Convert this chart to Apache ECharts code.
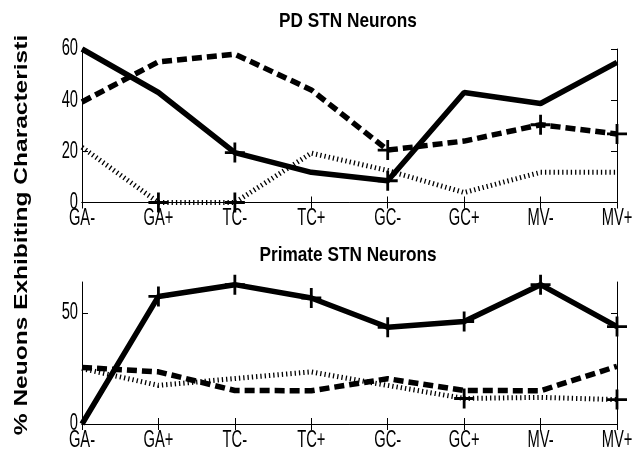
<!DOCTYPE html>
<html>
<head>
<meta charset="utf-8">
<script src="https://cdn.jsdelivr.net/npm/echarts@6/dist/echarts.min.js"></script>
<style>
html,body{margin:0;padding:0;background:#fff;}
#map{width:644px;height:453px;}
</style>
</head>
<body>
<div id="map"></div>
<script>
// categories
var cats = ['GA-', 'GA+', 'TC-', 'TC+', 'GC-', 'GC+', 'MV-', 'MV+'];

// PD STN Neurons
var pdSolid = [60, 43, 19.5, 11.8, 8.5, 43, 38.7, 54.8];
var pdDashed = [39.3, 55, 58, 44, 20.5, 24, 30.4, 26.8];
var pdDotted = [21.6, 0, 0, 19.3, 12.5, 3.9, 11.8, 11.8];
var pdSolidMarks = ['TC-', 'GC-'];
var pdDashedMarks = ['GC-', 'MV-', 'MV+'];
var pdDottedMarks = ['GA+', 'TC-'];
var pdTicks = [0, 20, 40, 60];

// Primate STN Neurons
var prSolid = [0, 57.5, 62.8, 56.8, 43.6, 46.2, 62.8, 43.9];
var prDashed = [25.5, 23.5, 15.1, 15, 20.4, 15.1, 15, 26];
var prDotted = [25, 17.4, 20.5, 23.5, 17.4, 11.5, 12, 11];
var prSolidMarks = ['GA+', 'TC-', 'TC+', 'GC-', 'GC+', 'MV-', 'MV+'];
var prDashedMarks = [];
var prDottedMarks = ['GC+', 'MV+'];
var prTicks = [0, 50];

var myChart = echarts.init(document.getElementById('map'));

var plus = 'path://M8.6,0H11.4V8.6H20V11.4H11.4V20H8.6V11.4H0V8.6H8.6Z';
var sans = "'Liberation Sans', Arial, sans-serif";

// 把数值和打点位置拼成数据
function withMarks(values, marks) {
	var out = [];
	for (var i = 0; i < values.length; i++) {
		if (marks.indexOf(cats[i]) >= 0) {
			out.push({ value: values[i], symbol: plus, symbolSize: 20 });
		} else {
			out.push({ value: values[i], symbol: 'none' });
		}
	}
	return out;
}

function line(idx, values, marks, kind) {
	var ls = { color: '#000', width: 5.5, type: 'solid', cap: 'butt' };
	if (kind === 'dashed') {
		ls.type = [10, 5];
	}
	if (kind === 'dotted') {
		ls.width = 5;
		ls.type = [1.3, 3];
	}
	return {
		type: 'line',
		xAxisIndex: idx * 2,
		yAxisIndex: idx * 2,
		data: withMarks(values, marks),
		showSymbol: true,
		lineStyle: ls,
		itemStyle: { color: '#000', borderWidth: 0 },
		emphasis: { disabled: true },
		animation: false,
		z: kind === 'solid' ? 4 : (kind === 'dashed' ? 3 : 2)
	};
}

function xAxes(gi) {
	return [{
		type: 'category', gridIndex: gi, data: cats, boundaryGap: false,
		axisLine: { show: true, lineStyle: { color: '#000', width: 1 } },
		axisTick: { inside: true, length: 6, lineStyle: { color: '#000' } },
		axisLabel: { show: false }, splitLine: { show: false }
	}, {
		type: 'category', gridIndex: gi, data: cats, boundaryGap: false, position: 'top',
		axisLine: { show: true, lineStyle: { color: '#000', width: 1 } },
		axisTick: { inside: true, length: 6, lineStyle: { color: '#000' } },
		axisLabel: { show: false }, splitLine: { show: false }
	}];
}

function yAxes(gi, max, ticks, interval) {
	var one = function (pos) {
		return {
			type: 'value', gridIndex: gi, min: 0, max: max, interval: interval, position: pos,
			axisLine: { show: true, lineStyle: { color: '#000', width: 1 } },
			axisTick: { show: true, inside: true, length: 6, lineStyle: { color: '#000' }, customValues: ticks },
			axisLabel: { show: false },
			splitLine: { show: false }
		};
	};
	return [one('left'), one('right')];
}

var option = {
	backgroundColor: '#fff',
	animation: false,
	grid: [
		{ left: 82, right: 27, top: 49, height: 153.5 },
		{ left: 82, right: 27, top: 282, height: 142 }
	],
	xAxis: xAxes(0).concat(xAxes(1)),
	yAxis: yAxes(0, 60, pdTicks, 20).concat(yAxes(1, 64, prTicks, 50)),
	series: [
		line(0, pdDotted, pdDottedMarks, 'dotted'),
		line(0, pdDashed, pdDashedMarks, 'dashed'),
		line(0, pdSolid, pdSolidMarks, 'solid'),
		line(1, prDotted, prDottedMarks, 'dotted'),
		line(1, prDashed, prDashedMarks, 'dashed'),
		line(1, prSolid, prSolidMarks, 'solid')
	]
};
myChart.setOption(option);

// 刻度文字用窄字体效果：按坐标轴换算位置后画出来
var g = [];
function tickText(txt, x, y, align, vAlign) {
	g.push({
		type: 'text', x: x, y: y, scaleX: 0.64, silent: true,
		style: { text: txt, fill: '#000', font: '23px ' + sans, textAlign: align, textVerticalAlign: vAlign }
	});
}
function labelsFor(gi, ticks) {
	var x0 = myChart.convertToPixel({ xAxisIndex: gi * 2 }, cats[0]);
	var y0 = myChart.convertToPixel({ yAxisIndex: gi * 2 }, 0);
	for (var i = 0; i < cats.length; i++) {
		var px = myChart.convertToPixel({ xAxisIndex: gi * 2 }, cats[i]);
		tickText(cats[i], px, y0 + 5, 'center', 'top');
	}
	for (var j = 0; j < ticks.length; j++) {
		var py = myChart.convertToPixel({ yAxisIndex: gi * 2 }, ticks[j]);
		tickText(String(ticks[j]), x0 - 4, py, 'right', 'middle');
	}
}
labelsFor(0, pdTicks);
labelsFor(1, prTicks);

g.push({ type: 'text', x: 348, y: 21, scaleX: 0.82, silent: true,
	style: { text: 'PD STN Neurons', fill: '#000', font: 'bold 21px ' + sans, textAlign: 'center', textVerticalAlign: 'middle' } });
g.push({ type: 'text', x: 348, y: 255, scaleX: 0.82, silent: true,
	style: { text: 'Primate STN Neurons', fill: '#000', font: 'bold 21px ' + sans, textAlign: 'center', textVerticalAlign: 'middle' } });
g.push({ type: 'text', x: 22, y: 235, rotation: Math.PI / 2, scaleX: 1.29, silent: true,
	style: { text: '% Neuons Exhibiting Characteristi', fill: '#000', font: 'bold 19px ' + sans, textAlign: 'center', textVerticalAlign: 'middle' } });

myChart.setOption({ graphic: g });
</script>
</body>
</html>
